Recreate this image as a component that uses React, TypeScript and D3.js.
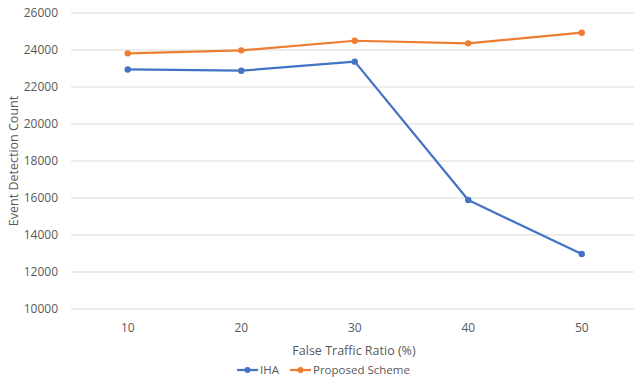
import React from "react";
import * as d3 from "d3";

const categories = ["10", "20", "30", "40", "50"];
const ihaValues = [22950, 22880, 23370, 15890, 12970];
const proposedValues = [23820, 23980, 24500, 24360, 24935];
const yTicks = [10000, 12000, 14000, 16000, 18000, 20000, 22000, 24000, 26000];
const seriesNames = ["IHA", "Proposed Scheme"];

const W = 634;
const H = 381;
const FONT = "'Open Sans', 'Noto Sans', sans-serif";
const TEXT = "#595959";
const GRID = "#d9d9d9";
const COLORS = ["#4472C4", "#ED7D31"];

export default function App() {
  const x = d3.scaleBand<string>().domain(categories).range([71, 638.5]);
  const y = d3.scaleLinear().domain([10000, 26000]).range([309, 13]);
  const cx = (c: string) => (x(c) ?? 0) + x.bandwidth() / 2;

  const line = d3
    .line<number>()
    .x((_, i) => cx(categories[i]))
    .y((v) => y(v));

  const series = [ihaValues, proposedValues];

  return (
    <svg
      width={W}
      height={H}
      style={{ position: "absolute", left: 0, top: 0, background: "#fff" }}
      fontFamily={FONT}
    >
      {/* horizontal gridlines and value labels */}
      {yTicks.map((t) => (
        <g key={t}>
          <line x1={71} x2={W} y1={y(t)} y2={y(t)} stroke={GRID} strokeWidth={1} />
          <text x={58} y={y(t)} dy="0.35em" textAnchor="end" fontSize={12} fill={TEXT}>
            {t}
          </text>
        </g>
      ))}

      {/* category labels */}
      {categories.map((c) => (
        <text key={c} x={cx(c)} y={332} textAnchor="middle" fontSize={12} fill={TEXT}>
          {c}
        </text>
      ))}

      {/* axis titles */}
      <text x={354} y={355} textAnchor="middle" fontSize={12.5} fill={TEXT}>
        False Traffic Ratio (%)
      </text>
      <text
        transform={`translate(18, 161) rotate(-90)`}
        textAnchor="middle"
        fontSize={12.5}
        fill={TEXT}
      >
        Event Detection Count
      </text>

      {/* data series */}
      {series.map((vals, si) => (
        <g key={si}>
          <path
            d={line(vals) ?? ""}
            fill="none"
            stroke={COLORS[si]}
            strokeWidth={2.25}
            strokeLinejoin="round"
            strokeLinecap="round"
          />
          {vals.map((v, i) => (
            <circle key={i} cx={cx(categories[i])} cy={y(v)} r={3.2} fill={COLORS[si]} />
          ))}
        </g>
      ))}

      {/* legend */}
      {seriesNames.map((name, i) => {
        const lx = i === 0 ? 237 : 290;
        return (
          <g key={name}>
            <line x1={lx} x2={lx + 21} y1={370} y2={370} stroke={COLORS[i]} strokeWidth={2.25} />
            <circle cx={lx + 10.5} cy={370} r={3} fill={COLORS[i]} />
            <text x={lx + 23} y={370} dy="0.35em" fontSize={11.5} fill={TEXT}>
              {name}
            </text>
          </g>
        );
      })}
    </svg>
  );
}
